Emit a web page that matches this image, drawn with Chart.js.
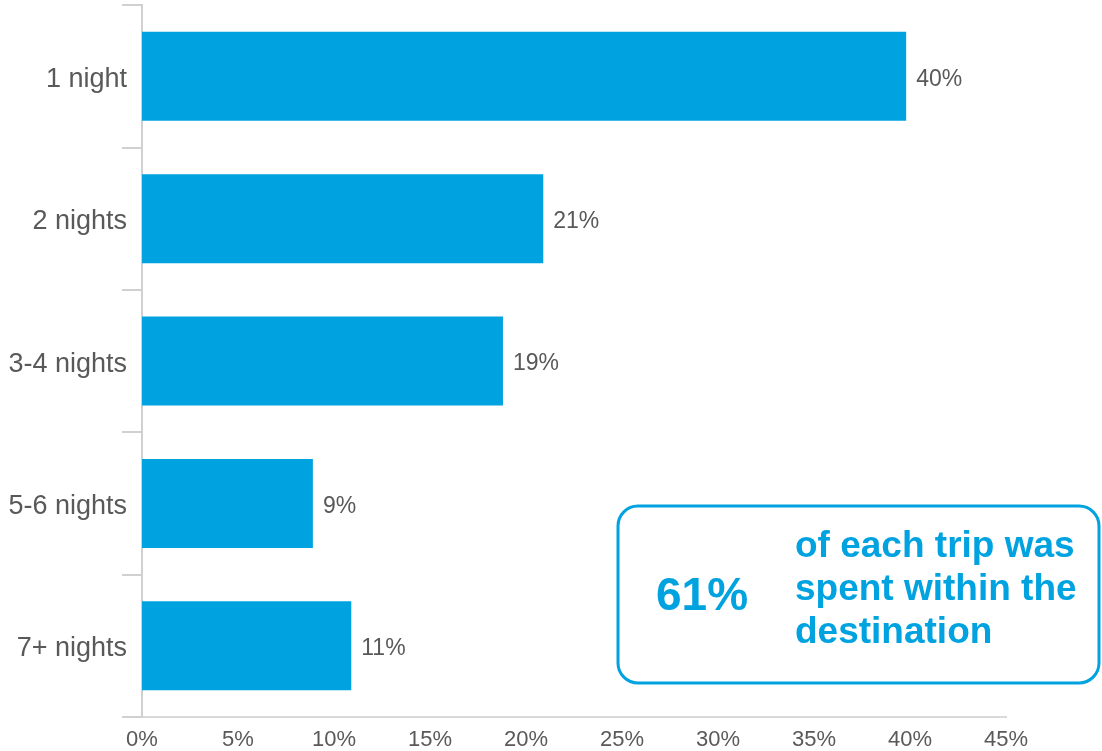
<!DOCTYPE html>
<html>
<head>
<meta charset="utf-8">
<script src="https://cdn.jsdelivr.net/npm/chart.js@4"></script>
<style>
  html, body { margin: 0; padding: 0; background: #fff; }
  #wrap { width: 1102px; height: 751px; position: relative; }
</style>
</head>
<body>
<div id="wrap"><canvas id="c"></canvas></div>
<script>
const categories = ['1 night', '2 nights', '3-4 nights', '5-6 nights', '7+ nights'];
const shares = [39.8, 20.9, 18.8, 8.9, 10.9];
const shareLabels = ['40%', '21%', '19%', '9%', '11%'];
const calloutBig = '61%';
const calloutLines = ['of each trip was', 'spent within the', 'destination'];

const blue = '#00a3e0';
const grey = '#595959';
const font = '"Liberation Sans", Arial, sans-serif';

// values to the right of each bar
const barLabels = {
    id: 'barLabels',
    afterDatasetsDraw(chart) {
        const ctx = chart.ctx;
        const meta = chart.getDatasetMeta(0);
        ctx.save();
        ctx.font = '23px ' + font;
        ctx.fillStyle = grey;
        ctx.textBaseline = 'middle';
        meta.data.forEach((bar, i) => {
            ctx.fillText(shareLabels[i], bar.x + 10, bar.y + 3);
        });
        ctx.restore();
    }
};

// rounded call-out box at the bottom right
const callout = {
    id: 'callout',
    afterDraw(chart) {
        const ctx = chart.ctx;
        ctx.save();
        ctx.strokeStyle = blue;
        ctx.lineWidth = 3;
        ctx.beginPath();
        ctx.roundRect(618, 506, 481, 177, 20);
        ctx.stroke();
        ctx.fillStyle = blue;
        ctx.textBaseline = 'middle';
        ctx.font = 'bold 46px ' + font;
        ctx.textAlign = 'center';
        ctx.fillText(calloutBig, 702, 597);
        ctx.font = 'bold 37px ' + font;
        ctx.textAlign = 'left';
        calloutLines.forEach((t, i) => ctx.fillText(t, 795, 547 + i * 43));
        ctx.restore();
    }
};

new Chart(document.getElementById('c'), {
    type: 'bar',
    data: {
        labels: categories,
        datasets: [{
            data: shares,
            backgroundColor: blue,
            borderWidth: 0,
            categoryPercentage: 0.625,
            barPercentage: 1
        }]
    },
    options: {
        indexAxis: 'y',
        responsive: true,
        maintainAspectRatio: false,
        animation: false,
        layout: { padding: { top: 5, right: 96, left: 0, bottom: 0 } },
        plugins: { legend: { display: false }, tooltip: { enabled: false } },
        scales: {
            x: {
                min: 0,
                max: 45,
                ticks: {
                    stepSize: 5,
                    color: grey,
                    font: { family: font, size: 22 },
                    padding: 10,
                    callback: v => v + '%'
                },
                grid: { display: false, drawTicks: false },
                border: { display: true, color: '#d9d9d9', width: 2 },
                afterFit(s) { s.height = 34; }
            },
            y: {
                ticks: {
                    color: grey,
                    font: { family: font, size: 27, lineHeight: 0.75 },
                    padding: -5,
                    labelOffset: 3
                },
                grid: {
                    offset: true,
                    drawOnChartArea: false,
                    drawTicks: true,
                    tickLength: 20,
                    color: '#d0d0d0',
                    lineWidth: 2
                },
                border: { display: true, color: '#d0d0d0', width: 2 },
                afterFit(s) { s.width = 142; }
            }
        }
    },
    plugins: [barLabels, callout]
});
</script>
</body>
</html>
